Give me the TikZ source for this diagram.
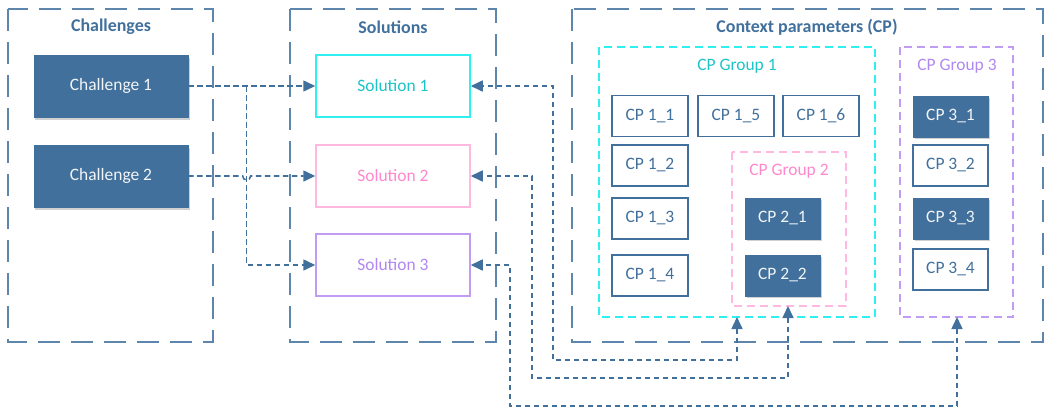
\documentclass[tikz,border=0pt]{standalone}
\usepackage{fontspec}
\setmainfont{Carlito}
\usetikzlibrary{arrows.meta,shadows,calc}
\definecolor{db}{HTML}{41709C}
\definecolor{cyl}{HTML}{2EF0F0}
\definecolor{cyt}{HTML}{1CC4C8}
\definecolor{pkl}{HTML}{FFB8E0}
\definecolor{pkt}{HTML}{FF88CC}
\definecolor{pul}{HTML}{C09CF4}
\definecolor{put}{HTML}{B088F0}
\tikzset{
  container/.style={draw=db!85, line width=1.6pt, dash pattern=on 22bp off 11bp},
  title/.style={font=\fontsize{18}{21}\selectfont\bfseries, text=db},
  darkbox/.style={draw=db, fill=db, text=white!93!db, font=\fontsize{17.5}{20}\selectfont,
    drop shadow={shadow xshift=1.5bp, shadow yshift=-2.5bp, opacity=0.18, fill=black}},
  cpbox/.style={draw=db, line width=1.2pt, fill=white, text=db, font=\fontsize{17.5}{20}\selectfont},
  cpdark/.style={draw=db, fill=db, text=white!93!db, font=\fontsize{17.5}{20}\selectfont,
    drop shadow={shadow xshift=1.5bp, shadow yshift=-2bp, opacity=0.18, fill=black}},
  solbox/.style={line width=1.5pt, fill=white, font=\fontsize{17.5}{20}\selectfont},
  grp/.style={line width=1.3pt, dash pattern=on 8bp off 5bp},
  glabel/.style={font=\fontsize{17.5}{20}\selectfont},
  conn/.style={draw=db, line width=1.6pt, dash pattern=on 5.5bp off 3.5bp,
    -{Triangle[length=12bp,width=11bp]}},
  conn2/.style={draw=db, line width=1.6pt, dash pattern=on 5.5bp off 3.5bp,
    {Triangle[length=12bp,width=11bp]}-{Triangle[length=12bp,width=11bp]}},
}
\begin{document}
\begin{tikzpicture}[x=1bp,y=-1bp]
\useasboundingbox (0,0) rectangle (1051,408);
% containers
\draw[container] (8,9) rectangle (213,342);
\draw[container] (290,9) rectangle (496,342);
\draw[container] (572,9) rectangle (1043,342);
\node[title] (tch) at (111,27) {Challenges};
\node[title] (tso) at (393,27) {Solutions};
\node[title] (tcp) at (807,27) {Context parameters (CP)};
% groups
\draw[grp, draw=cyl] (599,47) rectangle (875,317);
\coordinate (g1b) at (737,317);
\node[glabel, text=cyt] (g1l) at (737,66) {CP Group 1};
\draw[grp, draw=pkl] (732,152) rectangle (846,306);
\coordinate (g2b) at (788,306);
\node[glabel, text=pkt] (g2l) at (789,171) {CP Group 2};
\draw[grp, draw=pul] (900,47) rectangle (1013,317);
\coordinate (g3b) at (957,317);
\node[glabel, text=put] (g3l) at (957,66) {CP Group 3};
% challenges
\node[darkbox, minimum width=154bp, minimum height=62bp] (c1) at (111,86) {Challenge 1};
\node[darkbox, minimum width=154bp, minimum height=62bp] (c2) at (111,176) {Challenge 2};
% solutions
\node[solbox, draw=cyl, text=cyt, minimum width=154bp, minimum height=62bp] (s1) at (393,86) {Solution 1};
\node[solbox, draw=pkl, text=pkt, minimum width=154bp, minimum height=62bp] (s2) at (393,176) {Solution 2};
\node[solbox, draw=pul, text=put, minimum width=154bp, minimum height=62bp] (s3) at (393,265) {Solution 3};
% CP boxes
\tikzset{cpsize/.style={minimum width=76bp, minimum height=41bp, inner sep=0pt}}
\node[cpbox, cpsize] (cp11) at (650,116) {CP 1\_1};
\node[cpbox, cpsize] (cp15) at (736,116) {CP 1\_5};
\node[cpbox, cpsize] (cp16) at (821,116) {CP 1\_6};
\node[cpbox, cpsize] (cp12) at (650,165.5) {CP 1\_2};
\node[cpbox, cpsize] (cp13) at (650,218.5) {CP 1\_3};
\node[cpbox, cpsize] (cp14) at (650,275.5) {CP 1\_4};
\node[cpdark, cpsize, minimum width=75bp] (cp21) at (782.5,218.5) {CP 2\_1};
\node[cpdark, cpsize, minimum width=75bp] (cp22) at (782.5,275.5) {CP 2\_2};
\node[cpdark, cpsize, minimum width=75bp] (cp31) at (950.5,116.5) {CP 3\_1};
\node[cpbox, cpsize, minimum width=75bp] (cp32) at (950.5,165.5) {CP 3\_2};
\node[cpdark, cpsize, minimum width=75bp] (cp33) at (950.5,218.5) {CP 3\_3};
\node[cpbox, cpsize, minimum width=75bp] (cp34) at (950.5,269.5) {CP 3\_4};
% connectors from challenges
\coordinate (br) at ($(c1.east)!0.46!(s1.west)$);
\draw[conn] (c1.east) -- (s1.west);
\draw[conn] (br) |- (s3.west);
\draw[conn] (c2.east) -- ($(br |- c2.east)+(-4,0)$) arc[start angle=180, end angle=0, radius=4] -- (s2.west);
% connectors from context parameter groups
\draw[conn2] (g1b) -- ++(0,43) -| (553,86) -- (s1.east);
\draw[conn2] (g2b) -- ++(0,72) -| (532,176) -- (s2.east);
\draw[conn2] (g3b) -- ++(0,89) -| (510,265) -- (s3.east);
\end{tikzpicture}
\end{document}
